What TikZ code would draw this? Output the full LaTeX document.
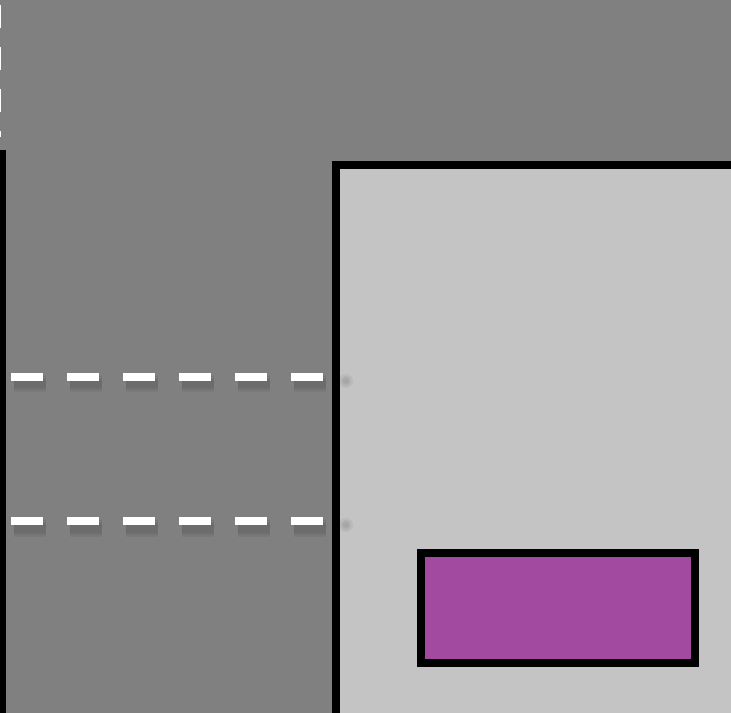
\documentclass[tikz,border=0pt]{standalone}
\definecolor{bggray}{HTML}{808080}
\definecolor{panelgray}{HTML}{C4C4C4}
\definecolor{plum}{HTML}{A24A9F}
\begin{document}
\begin{tikzpicture}[x=0.02cm, y=-0.02cm,
  edge/.style={draw=black, line width=0.16cm},
  guide/.style={white, line width=0.16cm, dash pattern=on 0.64cm off 0.48cm},
  guideshade/.style={black, opacity=0.05, dash pattern=on 0.64cm off 0.48cm}]

\def\ya{377}
\def\yb{521}
\def\xl{11}
\def\xr{323}

\useasboundingbox (0,0) rectangle (731,713);
\clip (0,0) rectangle (731,713);

%--- Фон ---
\fill[bggray] (0,0) rectangle (731,713);

%--- Вертикальный пунктир сверху ---
\draw[white, line width=0.16cm, dash pattern=on 0.46cm off 0.38cm] (-3,5) -- (-3,137);

%--- Левая граница ---
\draw[black, line width=0.13cm] (2.5,150) -- (2.5,730);

%--- Панель ---
\draw[edge, fill=panelgray] (335.5,165) rectangle (770,770);

%--- Пунктиры (с размытой тенью) ---
\foreach \yy in {\ya,\yb}{
  \foreach \w in {0.34,0.26,0.18}
    \draw[guideshade, line width=\w cm] (\xl+3,\yy+7) -- (\xr+3,\yy+7);
  \draw[guide] (\xl,\yy) -- (\xr,\yy);
  \foreach \r in {7,5,3}
    \fill[black, opacity=0.05] (346,\yy+4) circle (\r);
}

%--- Блок ---
\draw[edge, fill=plum] (421,553) rectangle (695,663);

\end{tikzpicture}
\end{document}
